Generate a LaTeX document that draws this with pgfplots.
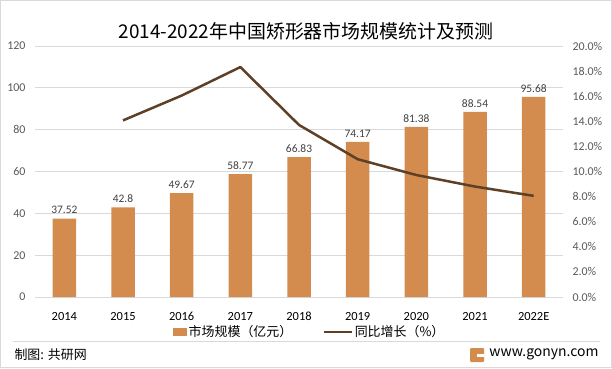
\documentclass[border=0pt]{standalone}
\usepackage{pgfplots}
\pgfplotsset{compat=1.18}
\usepackage{fontspec}
\setmainfont{Carlito}
\newfontfamily\cjk{Noto Sans CJK SC}
\definecolor{barc}{HTML}{D38C4E}
\definecolor{linec}{HTML}{5E4027}
\definecolor{gridc}{HTML}{D9D9D9}
\definecolor{tickc}{HTML}{595959}
\definecolor{lblc}{HTML}{404040}
\begin{document}
\begin{tikzpicture}[x=1bp,y=1bp]
\useasboundingbox (0,0) rectangle (612,368);
\draw[color=gridc, line width=1bp] (0.5,0.5) rectangle (611.5,367.5);
\node[font=\cjk\fontsize{19}{22}\selectfont, text=black] at (306,337) {2014-2022年中国矫形器市场规模统计及预测};
\begin{axis}[at={(35bp,71bp)}, anchor=south west, scale only axis,
  width=528bp, height=251bp,
  /pgf/number format/assume math mode=true,
  xmin=-0.5, xmax=8.5, ymin=0, ymax=120, enlargelimits=false,
  ytick={0,20,...,120},
  xtick={0,...,8}, xticklabels={2014,2015,2016,2017,2018,2019,2020,2021,2022E},
  axis x line*=bottom, axis y line*=left,
  x axis line style={draw=gridc, line width=0.75bp, -},
  y axis line style={draw=none},
  major tick length=0pt,
  ymajorgrids, grid style={gridc, line width=0.75bp},
  yticklabel style={font=\fontsize{12}{14}\selectfont, text=tickc, xshift=-6bp},
  xticklabel style={font=\fontsize{12.5}{14}\selectfont, text=black, anchor=north,
    text height=9bp, text depth=2bp, yshift=-11bp},
  legend style={draw=none, fill=none, legend columns=2, at={(0.52,-0.14)}, anchor=center,
    font=\cjk\fontsize{13}{15}\selectfont, text=black,
    /tikz/every even column/.append style={column sep=28bp}},
  legend cell align=left,
]
\addplot[ybar, bar width=23.5bp, fill=barc, draw=none,
  nodes near coords, point meta=explicit symbolic,
  nodes near coords style={font=\fontsize{11.5}{13}\selectfont, text=lblc, yshift=1bp},
  legend image code/.code={\fill[barc] (0bp,-4bp) rectangle (14bp,4bp);}]
  table[meta=lab] {
x y lab
0 37.52 37.52
1 42.8 42.8
2 49.67 49.67
3 58.77 58.77
4 66.83 66.83
5 74.17 74.17
6 81.38 81.38
7 88.54 88.54
8 95.68 95.68
};
\addlegendentry{市场规模（亿元）}
\addlegendimage{legend image code/.code={\draw[linec,line width=2.5bp] (0bp,0bp) -- (28bp,0bp);}}
\addlegendentry{同比增长（\%）}
\end{axis}
\begin{axis}[at={(35bp,71bp)}, anchor=south west, scale only axis,
  width=528bp, height=251bp,
  /pgf/number format/assume math mode=true,
  xmin=-0.5, xmax=8.5, ymin=0, ymax=20, enlargelimits=false,
  axis x line=none, axis y line*=right,
  y axis line style={draw=none},
  major tick length=0pt,
  ytick={0,2,...,20},
  yticklabel={\pgfmathprintnumber[fixed,fixed zerofill,precision=1]{\tick}\%},
  yticklabel style={font=\fontsize{12}{14}\selectfont, text=tickc, xshift=6bp},
]
\addplot[linec, line width=2.5bp, line join=round, mark=none] coordinates {
(1,14.07) (2,16.05) (3,18.32) (4,13.71) (5,10.98) (6,9.72) (7,8.80) (8,8.06)
};
\end{axis}
\draw[gridc, line width=0.75bp] (13,27) -- (600,27);
\node[anchor=west, font=\cjk\fontsize{13}{15}\selectfont, text=black] at (11,13) {制图: 共研网};
\fill[barc, rounded corners=1bp] (470,6) rectangle (484,20);
\fill[white] (477,11) rectangle (484,14);
\node[anchor=east, font=\cjk\fontsize{14}{16}\selectfont, text=black] at (602,14) {www.gonyn.com};
\end{tikzpicture}
\end{document}
